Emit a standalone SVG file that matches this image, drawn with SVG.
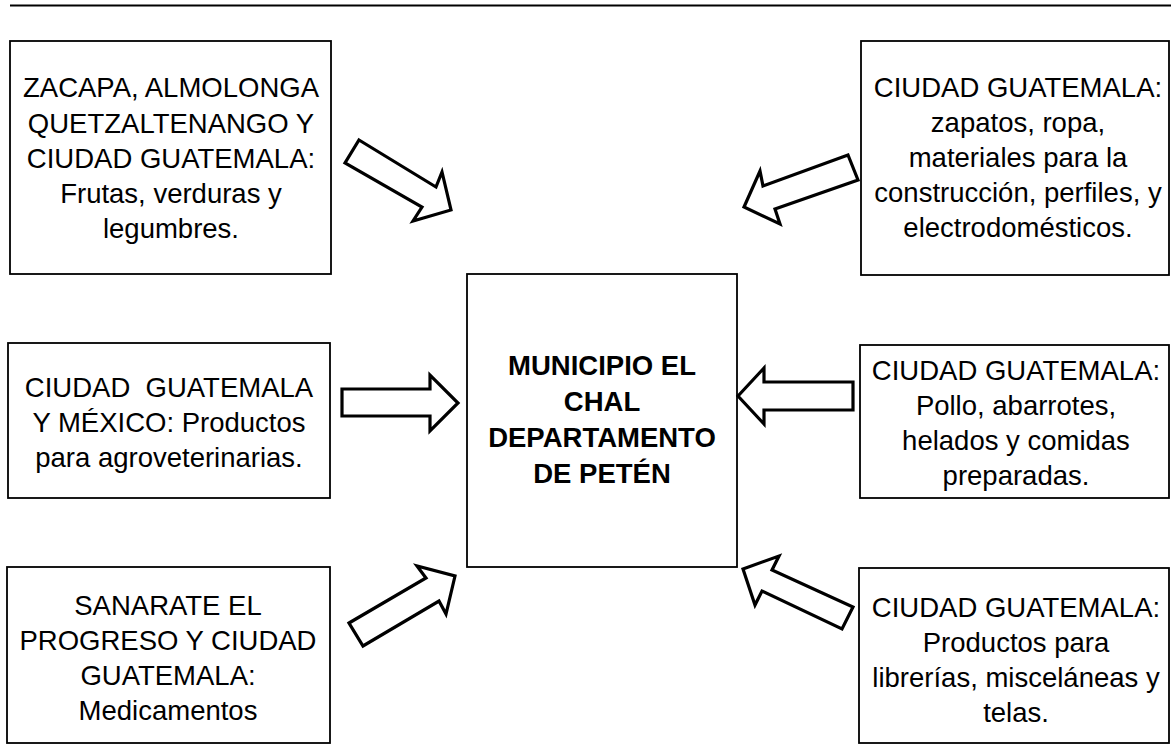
<svg xmlns="http://www.w3.org/2000/svg" width="1171" height="745" viewBox="0 0 1171 745">
<style>
.box{fill:#fff;stroke:#000;stroke-width:1.8}
.t{font-family:"Liberation Sans",Arial,sans-serif;font-size:27.5px;fill:#000;text-anchor:middle}
.b{font-weight:bold}
.arr{fill:#fff;stroke:#000;stroke-width:3.2;stroke-linejoin:miter}
</style>
<rect width="1171" height="745" fill="#fff"/>
<line x1="10" y1="5.5" x2="1171" y2="5.5" stroke="#000" stroke-width="2"/>

<g id="n-center">
<rect class="box" x="467" y="274" width="270" height="293"/>
<text class="t b" x="602" y="375">MUNICIPIO EL</text>
<text class="t b" x="602" y="411">CHAL</text>
<text class="t b" x="602" y="447">DEPARTAMENTO</text>
<text class="t b" x="602" y="483">DE PETÉN</text>
</g>

<g id="n-topleft">
<rect class="box" x="10" y="41" width="321" height="233"/>
<text class="t" x="171" y="97">ZACAPA, ALMOLONGA</text>
<text class="t" x="171" y="133">QUETZALTENANGO Y</text>
<text class="t" x="171" y="168">CIUDAD GUATEMALA:</text>
<text class="t" x="171" y="203">Frutas, verduras y</text>
<text class="t" x="171" y="238">legumbres.</text>
</g>

<g id="n-midleft">
<rect class="box" x="8" y="343" width="322" height="155"/>
<text class="t" x="169" y="397" xml:space="preserve">CIUDAD  GUATEMALA</text>
<text class="t" x="169" y="432">Y MÉXICO: Productos</text>
<text class="t" x="169" y="467">para agroveterinarias.</text>
</g>

<g id="n-botleft">
<rect class="box" x="7" y="567" width="323" height="176"/>
<text class="t" x="168" y="615">SANARATE EL</text>
<text class="t" x="168" y="650">PROGRESO Y CIUDAD</text>
<text class="t" x="168" y="685">GUATEMALA:</text>
<text class="t" x="168" y="720">Medicamentos</text>
</g>

<g id="n-topright">
<rect class="box" x="861" y="41" width="308" height="234"/>
<text class="t" x="1018" y="97">CIUDAD GUATEMALA:</text>
<text class="t" x="1018" y="132">zapatos, ropa,</text>
<text class="t" x="1018" y="167">materiales para la</text>
<text class="t" x="1018" y="202">construcción, perfiles, y</text>
<text class="t" x="1018" y="237">electrodomésticos.</text>
</g>

<g id="n-midright">
<rect class="box" x="860" y="345" width="309" height="153"/>
<text class="t" x="1016" y="380">CIUDAD GUATEMALA:</text>
<text class="t" x="1016" y="415">Pollo, abarrotes,</text>
<text class="t" x="1016" y="450">helados y comidas</text>
<text class="t" x="1016" y="485">preparadas.</text>
</g>

<g id="n-botright">
<rect class="box" x="859" y="568" width="310" height="175"/>
<text class="t" x="1016" y="617">CIUDAD GUATEMALA:</text>
<text class="t" x="1016" y="652">Productos para</text>
<text class="t" x="1016" y="687">librerías, misceláneas y</text>
<text class="t" x="1016" y="722">telas.</text>
</g>

<g id="connectors">
<polygon class="arr" points="359,140 436,187 442,172 451,210 413,221 422,207 345,163"/>
<polygon class="arr" points="342,389 430,389 430,375 458,403 430,431 430,416 342,416"/>
<polygon class="arr" points="349,623 426,578 417,566 455,576 446,614 439,601 363,646"/>
<polygon class="arr" points="848,155 763,186 760,171 744,207 780,224 775,209 858,180"/>
<polygon class="arr" points="738,396 764,368 764,382 853,382 853,410 764,410 764,424"/>
<polygon class="arr" points="743,569 779,556 772,570 853,607 842,629 762,591 755,605"/>
</g>
</svg>
